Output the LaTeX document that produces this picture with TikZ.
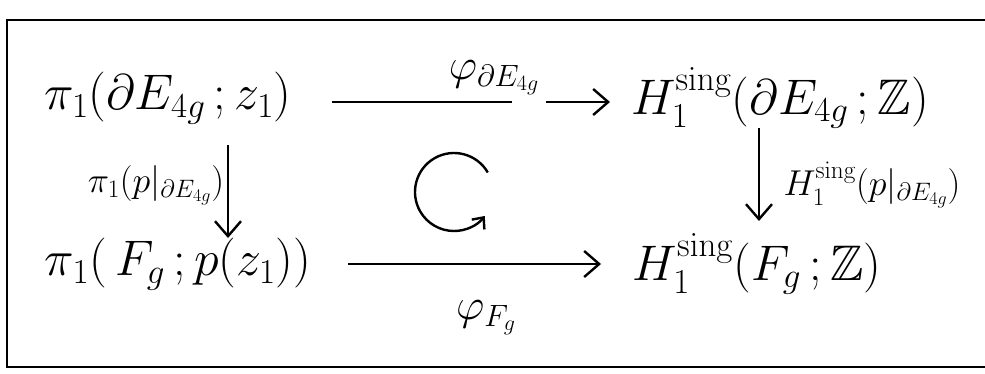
\documentclass[tikz,border=0pt]{standalone}
\usepackage{fix-cm}
\usepackage{amsmath,amssymb}
\usetikzlibrary{arrows.meta}
\tikzset{
  obj/.style={inner sep=0pt, font=\fontsize{50}{60}\selectfont},
  lab/.style={inner sep=0pt, font=\fontsize{36}{42}\selectfont},
  flab/.style={inner sep=0pt, font=\fontsize{44}{50}\selectfont},
  ln/.style={line width=2.4pt},
  arr/.style={line width=2.4pt, -{Straight Barb[length=15pt,width=26pt,line width=2.4pt]}},
}
\begin{document}
\begin{tikzpicture}[x=1pt,y=-1pt]
\useasboundingbox (0,0) rectangle (985,374);
\draw[line width=2.6pt] (990,20) -- (7,20) -- (7,367) -- (990,367);
\node[obj] (A) at (168,98) {$\pi_1(\partial E_{4g}\,;z_1)$};
\node[obj] (B) at (780,98) {$H_1^{\mathrm{sing}}(\partial E_{4g}\,;\mathbb{Z})$};
\node[obj] (C) at (178,264) {$\pi_1(\,F_g\,;p(z_1))$};
\node[obj] (D) at (757,264) {$H_1^{\mathrm{sing}}(F_g\,;\mathbb{Z})$};
\coordinate (t1) at (332,102);
\coordinate (tg1) at (512,102);
\coordinate (tg2) at (546,102);
\coordinate (t2) at (610,102);
\coordinate (b1) at (348,264);
\coordinate (b2) at (601,264);
\coordinate (l1) at (228,145);
\coordinate (l2) at (228,238);
\coordinate (r1) at (759,128);
\coordinate (r2) at (759,221);
\draw[ln] (t1) -- (tg1);
\draw[arr] (tg2) -- (t2);
\draw[arr] (b1) -- (b2);
\draw[arr] (l1) -- (l2);
\draw[arr] (r1) -- (r2);
\node[flab] (f1) at (494,78) {$\varphi_{\partial E_{4g}}$};
\node[flab] (f2) at (486,318) {$\varphi_{F_g}$};
\node[lab] (f3) at (156,185) {$\pi_1(p|_{\partial E_{4g}})$};
\node[lab] (f4) at (872,185) {$H_1^{\mathrm{sing}}(p|_{\partial E_{4g}})$};
\coordinate (cc) at (454,192);
\draw[line width=2.4pt, -{Straight Barb[length=9pt,width=16pt,line width=2.4pt]}] ([shift={(-30:39)}]cc) arc[start angle=-30, end angle=-322, radius=39];
\end{tikzpicture}
\end{document}
